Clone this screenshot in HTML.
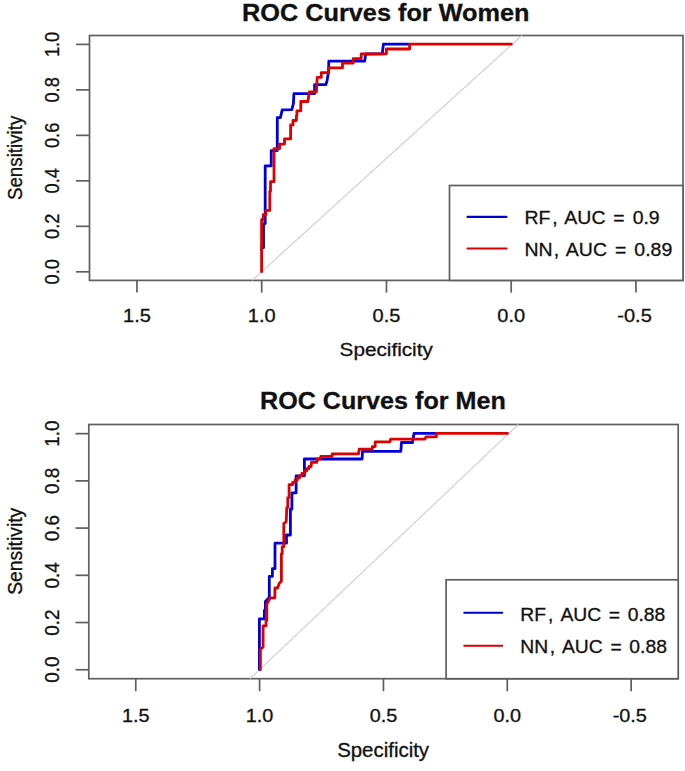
<!DOCTYPE html>
<html><head><meta charset="utf-8"><title>ROC Curves</title>
<style>
html,body{margin:0;padding:0;background:#fff;width:685px;height:771px;overflow:hidden}
svg{display:block}
text{font-family:"Liberation Sans",sans-serif;fill:#111;stroke:#111;stroke-width:0.3px}
</style></head>
<body>
<svg width="685" height="771" viewBox="0 0 685 771">
<rect x="0" y="0" width="685" height="771" fill="#fff"/>
<rect x="89.5" y="35.5" width="593.5" height="244.9" fill="none" stroke="#5e5e5e" stroke-width="1.7"/>
<line x1="252.1" y1="280.4" x2="521.9" y2="35.5" stroke="#cdcdcd" stroke-width="1.1"/>
<polyline points="261.6,250 261.6,247.7 263.5,247.7 263.5,223.6 265.2,223.6 265.2,165.9 271.2,165.9 271.2,150.6 277.3,150.6 277.3,117.7 280.4,117.7 282.2,109.9 291.8,109.7 293.4,103.7 293.9,93.7 314.6,93.7 314.6,84.7 325.8,84.7 327,81 327.8,76 328.6,72 328.8,61.2 364.7,61.2 365.6,54 382.3,53.8 383.4,44.2 409,44.2" fill="none" stroke="#0000dd" stroke-width="2.8" stroke-linejoin="round" stroke-linecap="round"/>
<polyline points="261.6,271.7 261.6,219.7 263.2,219.7 263.2,214.7 265.9,214.7 265.9,210.4 269.8,210.4 269.8,191.4 270.5,191.4 270.5,181.7 274,181.7 274,148.6 279.7,148.6 279.7,144.1 284.5,144.1 284.5,138.9 290.6,138.9 290.6,125 293,125 293,120.5 296.4,120.5 296.4,115.8 296.9,115.8 296.9,110.8 300.8,110.8 300.8,101.5 307.9,101.5 308.6,96.8 309.4,91.8 316.4,91.8 317.2,77.4 321.3,77.4 321.3,72.7 328.6,72.7 328.6,67.9 342.5,67.9 342.5,63.1 353.2,63.1 353.2,58.6 361.2,58.6 361.2,53.8 386.4,53.8 386.4,49 409.6,49 409.6,44.2 511.3,44.2" fill="none" stroke="#dd0000" stroke-width="2.8" stroke-linejoin="round" stroke-linecap="round"/>
<line x1="76" y1="271.8" x2="89.5" y2="271.8" stroke="#5e5e5e" stroke-width="1.7"/>
<text transform="translate(59.4,271.8) scale(1.1,1) rotate(-90)" text-anchor="middle" font-size="18.2">0.0</text>
<line x1="76" y1="226.32" x2="89.5" y2="226.32" stroke="#5e5e5e" stroke-width="1.7"/>
<text transform="translate(59.4,226.32) scale(1.1,1) rotate(-90)" text-anchor="middle" font-size="18.2">0.2</text>
<line x1="76" y1="180.84" x2="89.5" y2="180.84" stroke="#5e5e5e" stroke-width="1.7"/>
<text transform="translate(59.4,180.84) scale(1.1,1) rotate(-90)" text-anchor="middle" font-size="18.2">0.4</text>
<line x1="76" y1="135.36" x2="89.5" y2="135.36" stroke="#5e5e5e" stroke-width="1.7"/>
<text transform="translate(59.4,135.36) scale(1.1,1) rotate(-90)" text-anchor="middle" font-size="18.2">0.6</text>
<line x1="76" y1="89.88" x2="89.5" y2="89.88" stroke="#5e5e5e" stroke-width="1.7"/>
<text transform="translate(59.4,89.88) scale(1.1,1) rotate(-90)" text-anchor="middle" font-size="18.2">0.8</text>
<line x1="76" y1="44.4" x2="89.5" y2="44.4" stroke="#5e5e5e" stroke-width="1.7"/>
<text transform="translate(59.4,44.4) scale(1.1,1) rotate(-90)" text-anchor="middle" font-size="18.2">1.0</text>
<line x1="136.95" y1="280.4" x2="136.95" y2="292.6" stroke="#5e5e5e" stroke-width="1.7"/>
<text transform="translate(136.95,321.8) scale(1.1,1)" text-anchor="middle" font-size="18.2">1.5</text>
<line x1="261.7" y1="280.4" x2="261.7" y2="292.6" stroke="#5e5e5e" stroke-width="1.7"/>
<text transform="translate(261.7,321.8) scale(1.1,1)" text-anchor="middle" font-size="18.2">1.0</text>
<line x1="386.45" y1="280.4" x2="386.45" y2="292.6" stroke="#5e5e5e" stroke-width="1.7"/>
<text transform="translate(386.45,321.8) scale(1.1,1)" text-anchor="middle" font-size="18.2">0.5</text>
<line x1="511.2" y1="280.4" x2="511.2" y2="292.6" stroke="#5e5e5e" stroke-width="1.7"/>
<text transform="translate(511.2,321.8) scale(1.1,1)" text-anchor="middle" font-size="18.2">0.0</text>
<line x1="635.95" y1="280.4" x2="635.95" y2="292.6" stroke="#5e5e5e" stroke-width="1.7"/>
<text transform="translate(634.55,321.8) scale(1.1,1)" text-anchor="middle" font-size="18.2">-0.5</text>
<text transform="translate(386.2,355.7) scale(1.1,1)" text-anchor="middle" font-size="18.85">Specificity</text>
<text transform="translate(22.1,157.9) scale(1.1,1) rotate(-90)" text-anchor="middle" font-size="18.75">Sensitivity</text>
<text transform="translate(385.8,20.9) scale(1.1,1)" text-anchor="middle" font-size="23" font-weight="bold">ROC Curves for Women</text>
<rect x="449.5" y="185.5" width="233.5" height="94.9" fill="#fff" stroke="#5e5e5e" stroke-width="1.7"/>
<line x1="467.5" y1="216.9" x2="506.5" y2="216.9" stroke="#0000cc" stroke-width="2.1" stroke-linecap="round"/>
<line x1="467.5" y1="248.5" x2="506.5" y2="248.5" stroke="#d80000" stroke-width="2.1" stroke-linecap="round"/>
<text transform="translate(524.41,224.2) scale(1.1,1)" font-size="17.7">RF</text>
<text transform="translate(552.36,224.2) scale(1.1,1)" font-size="17.7">,</text>
<text transform="translate(564.36,224.2) scale(1.1,1)" font-size="17.7">AUC</text>
<text transform="translate(613.15,224.2) scale(1.1,1)" font-size="17.7">=</text>
<text transform="translate(632.64,224.2) scale(1.1,1)" font-size="17.7">0.9</text>
<text transform="translate(524.41,256) scale(1.1,1)" font-size="17.7">NN</text>
<text transform="translate(553.86,256) scale(1.1,1)" font-size="17.7">,</text>
<text transform="translate(565.86,256) scale(1.1,1)" font-size="17.7">AUC</text>
<text transform="translate(614.95,256) scale(1.1,1)" font-size="17.7">=</text>
<text transform="translate(634.34,256) scale(1.1,1)" font-size="17.7">0.89</text>
<rect x="88.8" y="424.5" width="589.4" height="254.2" fill="none" stroke="#5e5e5e" stroke-width="1.7"/>
<line x1="250.2" y1="678.7" x2="518.2" y2="424.5" stroke="#cdcdcd" stroke-width="1.1"/>
<polyline points="259.4,669.6 259.4,618.9 264.4,618.9 264.4,610.3 265.4,610.3 265.4,601.4 269.3,597.5 269.3,576.4 272.4,576.4 272.4,568.7 275,568.7 275,543.2 286.5,543.2 286.5,535 290.4,535 290.4,509.2 291.9,509.2 291.9,492.9 296.1,492.9 296.1,475.8 304.4,475.8 304.4,459 362.1,459 362.5,451.3 400.8,451.3 401.5,442.5 412.5,442.5 414,433.4 435.5,433.4" fill="none" stroke="#0000dd" stroke-width="2.8" stroke-linejoin="round" stroke-linecap="round"/>
<polyline points="260.4,669.6 260.4,649.5 263.1,647 263.1,625.8 266,625.8 266,620.4 266.8,620.4 266.8,604.1 270.3,597.9 274.9,597.9 274.9,588 277.6,588 279.3,583.3 281.4,581.2 281.4,576.4 281.4,553.8 282.2,553.8 282.2,546.8 283.8,546.8 283.8,523.4 286.2,521.8 286.8,507.6 287.8,507.6 287.8,497.6 289.1,497.6 289.1,484.6 292.7,484.6 292.7,482.34 295.01,482.34 295.01,480.08 297.32,480.08 297.32,477.81 299.64,477.81 299.64,475.55 301.95,475.55 301.95,473.29 304.26,473.29 304.26,471.03 306.57,471.03 306.57,468.76 308.89,468.76 308.89,466.5 311.2,466.5 311.4,462.3 316.8,462.3 317,459 320.8,459 320.8,456.3 332.2,456.3 332.2,453.9 358.5,453.9 359.2,449.1 372.3,449.1 372.3,446.6 375.2,446.6 375.2,441.8 389.9,441.8 390.6,439.2 424.9,439.2 426,436.9 436.3,436.9 436.3,433.4 507.5,433.4" fill="none" stroke="#dd0000" stroke-width="2.8" stroke-linejoin="round" stroke-linecap="round"/>
<line x1="75.5" y1="669.75" x2="88.8" y2="669.75" stroke="#5e5e5e" stroke-width="1.7"/>
<text transform="translate(59,669.75) scale(1.05,1) rotate(-90)" text-anchor="middle" font-size="18.9">0.0</text>
<line x1="75.5" y1="622.53" x2="88.8" y2="622.53" stroke="#5e5e5e" stroke-width="1.7"/>
<text transform="translate(59,622.53) scale(1.05,1) rotate(-90)" text-anchor="middle" font-size="18.9">0.2</text>
<line x1="75.5" y1="575.31" x2="88.8" y2="575.31" stroke="#5e5e5e" stroke-width="1.7"/>
<text transform="translate(59,575.31) scale(1.05,1) rotate(-90)" text-anchor="middle" font-size="18.9">0.4</text>
<line x1="75.5" y1="528.09" x2="88.8" y2="528.09" stroke="#5e5e5e" stroke-width="1.7"/>
<text transform="translate(59,528.09) scale(1.05,1) rotate(-90)" text-anchor="middle" font-size="18.9">0.6</text>
<line x1="75.5" y1="480.87" x2="88.8" y2="480.87" stroke="#5e5e5e" stroke-width="1.7"/>
<text transform="translate(59,480.87) scale(1.05,1) rotate(-90)" text-anchor="middle" font-size="18.9">0.8</text>
<line x1="75.5" y1="433.65" x2="88.8" y2="433.65" stroke="#5e5e5e" stroke-width="1.7"/>
<text transform="translate(59,433.65) scale(1.05,1) rotate(-90)" text-anchor="middle" font-size="18.9">1.0</text>
<line x1="135.75" y1="678.7" x2="135.75" y2="691.2" stroke="#5e5e5e" stroke-width="1.7"/>
<text transform="translate(135.75,722) scale(1.05,1)" text-anchor="middle" font-size="18.9">1.5</text>
<line x1="259.6" y1="678.7" x2="259.6" y2="691.2" stroke="#5e5e5e" stroke-width="1.7"/>
<text transform="translate(259.6,722) scale(1.05,1)" text-anchor="middle" font-size="18.9">1.0</text>
<line x1="383.45" y1="678.7" x2="383.45" y2="691.2" stroke="#5e5e5e" stroke-width="1.7"/>
<text transform="translate(383.45,722) scale(1.05,1)" text-anchor="middle" font-size="18.9">0.5</text>
<line x1="507.3" y1="678.7" x2="507.3" y2="691.2" stroke="#5e5e5e" stroke-width="1.7"/>
<text transform="translate(507.3,722) scale(1.05,1)" text-anchor="middle" font-size="18.9">0.0</text>
<line x1="631.15" y1="678.7" x2="631.15" y2="691.2" stroke="#5e5e5e" stroke-width="1.7"/>
<text transform="translate(629.75,722) scale(1.05,1)" text-anchor="middle" font-size="18.9">-0.5</text>
<text transform="translate(383.1,756.9) scale(1.05,1)" text-anchor="middle" font-size="19.45">Specificity</text>
<text transform="translate(22.1,551.3) scale(1.05,1) rotate(-90)" text-anchor="middle" font-size="19.35">Sensitivity</text>
<text transform="translate(382.9,409.2) scale(1.05,1)" text-anchor="middle" font-size="23.95" font-weight="bold">ROC Curves for Men</text>
<rect x="446.1" y="579.8" width="232.1" height="98.9" fill="#fff" stroke="#5e5e5e" stroke-width="1.7"/>
<line x1="464.3" y1="612.7" x2="502.3" y2="612.7" stroke="#0000cc" stroke-width="2.1" stroke-linecap="round"/>
<line x1="464.3" y1="645.8" x2="502.3" y2="645.8" stroke="#d80000" stroke-width="2.1" stroke-linecap="round"/>
<text transform="translate(520.22,620.6) scale(1.05,1)" font-size="18.4">RF</text>
<text transform="translate(548.07,620.6) scale(1.05,1)" font-size="18.4">,</text>
<text transform="translate(560.46,620.6) scale(1.05,1)" font-size="18.4">AUC</text>
<text transform="translate(608.76,620.6) scale(1.05,1)" font-size="18.4">=</text>
<text transform="translate(627.65,620.6) scale(1.05,1)" font-size="18.4">0.88</text>
<text transform="translate(520.22,653.4) scale(1.05,1)" font-size="18.4">NN</text>
<text transform="translate(549.87,653.4) scale(1.05,1)" font-size="18.4">,</text>
<text transform="translate(561.96,653.4) scale(1.05,1)" font-size="18.4">AUC</text>
<text transform="translate(610.46,653.4) scale(1.05,1)" font-size="18.4">=</text>
<text transform="translate(629.35,653.4) scale(1.05,1)" font-size="18.4">0.88</text>
</svg>
</body></html>
